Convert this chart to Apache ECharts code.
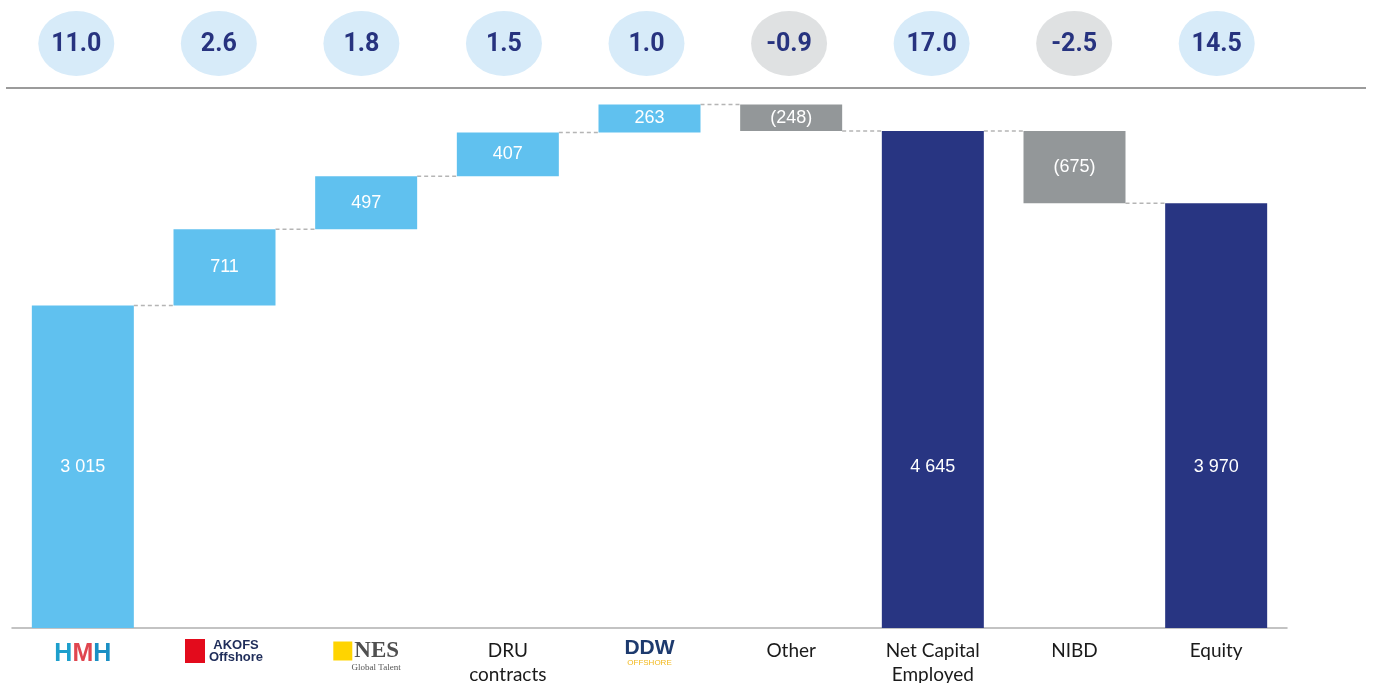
<!DOCTYPE html>
<html>
<head>
<meta charset="utf-8">
<script src="https://cdn.jsdelivr.net/npm/echarts@6/dist/echarts.min.js"></script>
<style>html,body{margin:0;padding:0;background:#fff;}#c{width:1373px;height:683px;}</style>
</head>
<body>
<div id="c"></div>
<script>
// ---- data ----
var categories = ['HMH', 'AKOFS Offshore', 'NES Global Talent', 'DRU\ncontracts', 'DDW Offshore', 'Other', 'Net Capital\nEmployed', 'NIBD', 'Equity'];
var barBase   = [0, 3015, 3726, 4223, 4630, 4645, 0, 3970, 0];
var barHeight = [3015, 711, 497, 407, 263, 248, 4645, 675, 3970];
var barLabels = ['3 015', '711', '497', '407', '263', '(248)', '4 645', '(675)', '3 970'];
var barKind   = ['first', 'step', 'step', 'step', 'step', 'neg', 'total', 'neg', 'total'];
var runningLevel = [3015, 3726, 4223, 4630, 4893, 4645, 4645, 3970];
var pillValues = [11.0, 2.6, 1.8, 1.5, 1.0, -0.9, 17.0, -2.5, 14.5];

var colors = { first: '#60c1ef', step: '#60c1ef', neg: '#939799', total: '#283582' };

var chart = echarts.init(document.getElementById('c'));

var valueData = barHeight.map(function (v, i) {
  var d = { value: v, itemStyle: { color: colors[barKind[i]] } };
  if (barKind[i] === 'first' || barKind[i] === 'total') {
    d.label = { position: 'insideBottom', distance: 152 };
  }
  return d;
});

var option = {
  animation: false,
  backgroundColor: '#fff',
  grid: [
    { left: 12, right: 86, top: 93, bottom: 55, outerBoundsMode: 'none', containLabel: false },
    { left: 5, width: 1283, top: 11, height: 65, outerBoundsMode: 'none', containLabel: false }
  ],
  xAxis: [{
    type: 'category', data: categories, gridIndex: 0,
    axisLine: { lineStyle: { color: '#b0b0b0', width: 1.5 } },
    axisTick: { show: false },
    axisLabel: {
      margin: 11, fontSize: 19, lineHeight: 24, color: '#1a1a1a', fontFamily: 'Lato',
      interval: 0,
      formatter: function (v, i) {
        if (i === 0) return '{hT|H}{hM|M}{hB|H}';
        if (i === 1) return '{akB| }{sp| }{akT|AKOFS}\n{akB| }{sp| }{akT|Offshore}';
        if (i === 2) return '{nesB| }{sp2| }{nesT|NES}\n{nesS|Global Talent}';
        if (i === 4) return '{ddw|DDW}\n{ddwS|OFFSHORE}';
        return v;
      },
      rich: {
        hT: { color: '#1d9fcc', fontSize: 25, fontWeight: 'bold', fontFamily: 'Liberation Sans', lineHeight: 30 },
        hM: { color: '#e0464f', fontSize: 25, fontWeight: 'bold', fontFamily: 'Liberation Sans', lineHeight: 30 },
        hB: { color: '#1a8fc4', fontSize: 25, fontWeight: 'bold', fontFamily: 'Liberation Sans', lineHeight: 30 },
        akB: { backgroundColor: '#e30b1c', width: 20, height: 12, lineHeight: 12, fontSize: 1 },
        sp: { width: 3, fontSize: 1, lineHeight: 12 },
        akT: { color: '#1f2d5a', fontSize: 13, fontWeight: 'bold', fontFamily: 'Liberation Sans', lineHeight: 12, width: 56, align: 'left' },
        nesB: { backgroundColor: '#ffd400', width: 19, height: 19, fontSize: 1, lineHeight: 19 },
        sp2: { width: 2, fontSize: 1 },
        nesT: { color: '#505050', fontSize: 23, fontWeight: 'bold', fontFamily: 'Liberation Serif', lineHeight: 19 },
        nesS: { color: '#555', fontSize: 9, fontFamily: 'Liberation Serif', lineHeight: 10, padding: [0, 0, 0, 20] },
        ddw: { color: '#1d3a6e', fontSize: 21, fontWeight: 'bold', fontFamily: 'Liberation Sans', lineHeight: 18 },
        ddwS: { color: '#f2b81c', fontSize: 8, fontFamily: 'Liberation Sans', lineHeight: 11 }
      }
    }
  }, {
    type: 'category', data: categories, gridIndex: 1, show: false
  }],
  yAxis: [
    { type: 'value', min: 0, max: 5000, gridIndex: 0, show: false, splitLine: { show: false } },
    { type: 'value', min: 0, max: 1, gridIndex: 1, show: false, splitLine: { show: false } }
  ],
  graphic: [{
    type: 'line', shape: { x1: 6, y1: 88, x2: 1366, y2: 88 },
    style: { stroke: '#7a7a7a', lineWidth: 1.5 }, silent: true
  }],
  series: [
    {
      type: 'bar', stack: 'w', data: barBase, barWidth: '72%',
      itemStyle: { color: 'transparent' }, silent: true
    },
    {
      type: 'bar', stack: 'w', data: valueData, barWidth: '72%',
      label: {
        show: true, position: 'inside', color: '#fff', fontSize: 18,
        fontFamily: 'Liberation Sans',
        formatter: function (p) { return barLabels[p.dataIndex]; }
      }
    },
    {
      type: 'custom', xAxisIndex: 0, yAxisIndex: 0,
      data: runningLevel.map(function (v, i) { return [i, v]; }),
      encode: { x: 0, y: 1 },
      renderItem: function (params, api) {
        var p = api.coord([api.value(0), api.value(1)]);
        var band = api.size([1, 0])[0];
        var half = band * 0.36;
        return {
          type: 'line',
          shape: { x1: p[0] + half, y1: p[1], x2: p[0] + band - half, y2: p[1] },
          style: { stroke: '#b5b5b5', lineWidth: 1.5, lineDash: [4, 3] }
        };
      },
      silent: true, z: 1
    },
    {
      type: 'custom', xAxisIndex: 1, yAxisIndex: 1,
      data: pillValues.map(function (v, i) { return [i, 0.5, v]; }),
      encode: { x: 0, y: 1 },
      clip: false,
      renderItem: function (params, api) {
        var p = api.coord([api.value(0), api.value(1)]);
        var v = api.value(2);
        return {
          type: 'group',
          children: [{
            type: 'circle', x: p[0], y: p[1], scaleX: 38 / 32.5,
            shape: { cx: 0, cy: 0, r: 32.5 },
            style: { fill: v < 0 ? '#dfe1e2' : '#d7ebf9' }
          }, {
            type: 'text', x: p[0], y: p[1] + 1,
            style: {
              text: v.toFixed(1), fill: '#27337f', fontSize: 25, fontWeight: 'bold',
              fontFamily: 'Roboto', align: 'center', verticalAlign: 'middle'
            }
          }]
        };
      },
      silent: true
    }
  ]
};
chart.setOption(option);
</script>
</body>
</html>
